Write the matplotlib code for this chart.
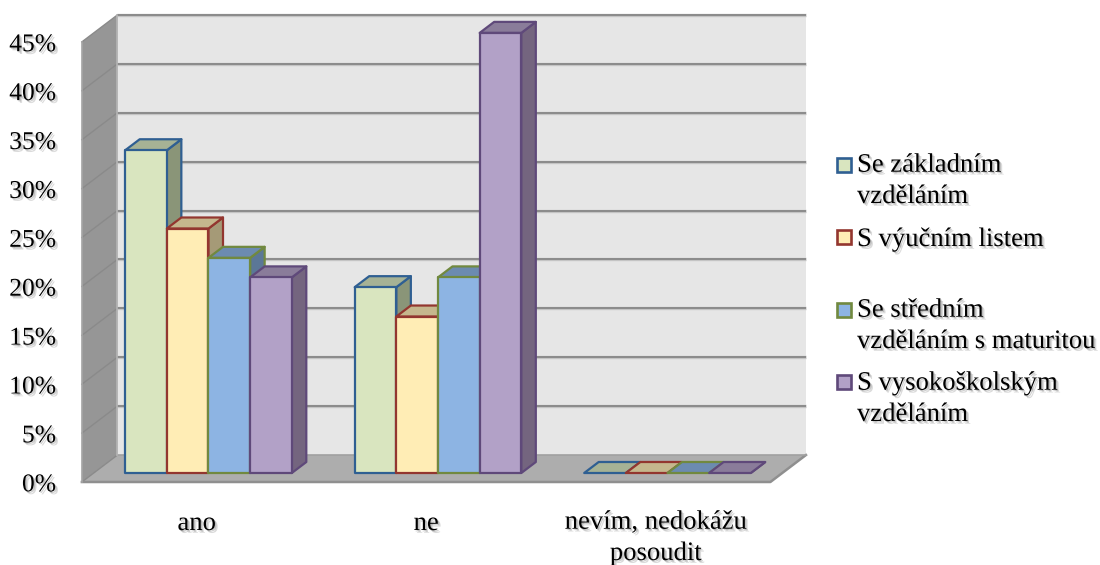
import matplotlib
matplotlib.use("Agg")
import matplotlib.pyplot as plt
import matplotlib.patheffects as pe
from matplotlib.patches import Polygon, Rectangle
from matplotlib.transforms import Affine2D

categories = ["ano", "ne", "nevím, nedokážu\nposoudit"]
series_names = ["Se základním\nvzděláním", "S výučním listem",
                "Se středním\nvzděláním s maturitou", "S vysokoškolským\nvzděláním"]
zakladni = [33, 19, 0]
vyucni = [25, 16, 0]
stredni = [22, 20, 0]
vysoka = [20, 45, 0]
yticks = [0, 5, 10, 15, 20, 25, 30, 35, 40, 45]

front_cols = ["#D9E5BF", "#FFEDB5", "#8DB4E3", "#B2A1C7"]
top_cols = ["#A6B295", "#C5B78D", "#6C8BB0", "#8A7C9A"]
side_cols = ["#8A9578", "#A59A77", "#5B7797", "#74657F"]
edge_cols = ["#2F5F92", "#93362F", "#71893F", "#5F497A"]

W, H = 1100, 565
PX_CAT = 229.5
PX_PCT = 9.78
X0, Y0 = 208.5, 473
DX, DY = 14.5 / PX_CAT, 11 / PX_PCT   # one bar depth in data units
BACK, FRONT = 18 / 11, -9 / 11        # wall planes, in bar depths
BAR_W = 0.1815
FS = 19.2
LINE = 1.33

plt.rcParams["font.family"] = ["Liberation Serif", "DejaVu Serif"]
fig = plt.figure(figsize=(W / 100, H / 100), dpi=100)
ax = fig.add_axes([0, 0, 1, 1])
ax.set_xlim(-X0 / PX_CAT, (W - X0) / PX_CAT)
ax.set_ylim((Y0 - H) / PX_PCT, Y0 / PX_PCT)
ax.axis("off")

shadow = [pe.SimplePatchShadow(offset=(2, -2), shadow_rgbFace="#999999", alpha=0.35),
          pe.SimplePatchShadow(offset=(1, -1), shadow_rgbFace="#777777", alpha=0.35),
          pe.Normal()]


def pt(x, y, d=0.0):
    return (x + d * DX, y + d * DY)


def poly(pts, fc, ec="none", lw=0.0, z=1):
    ax.add_patch(Polygon(pts, closed=True, fc=fc, ec=ec, lw=lw, joinstyle="round", zorder=z))


xl, xr = -0.5, 2.5
ymax = yticks[-1]

# walls and floor
poly([pt(xl, 0, BACK), pt(xr, 0, BACK), pt(xr, ymax, BACK), pt(xl, ymax, BACK)], "#E6E6E6")
poly([pt(xl, 0, FRONT), pt(xl, 0, BACK), pt(xl, ymax, BACK), pt(xl, ymax, FRONT)], "#969696")
poly([pt(xl, 0, FRONT), pt(xr, 0, FRONT), pt(xr, 0, BACK), pt(xl, 0, BACK)], "#ADADAD")

for v in yticks:
    a, b, c = pt(xl, v, FRONT), pt(xl, v, BACK), pt(xr, v, BACK)
    if v > 0:
        ax.plot([b[0], c[0]], [b[1], c[1]], color="#C4C4C4", lw=2.4, zorder=2, solid_capstyle="butt")
        ax.plot([b[0], c[0]], [b[1], c[1]], color="#868686", lw=1.3, zorder=2, solid_capstyle="butt")
    ax.plot([a[0], b[0]], [a[1], b[1]], color="#8A8A8A", lw=1.0, zorder=2)
    ax.text(*pt(xl - 0.113, v - 0.95, FRONT), f"{v}%", ha="right", va="baseline",
            fontsize=18.4, color="black", path_effects=shadow, zorder=5)

ax.plot(*zip(pt(xl, 0, FRONT), pt(xr, 0, FRONT), pt(xr, 0, BACK)), color="#8F8F8F", lw=1.8, zorder=2)
ax.plot(*zip(pt(xl, 0, BACK), pt(xr, 0, BACK)), color="#A0A0A0", lw=1.2, zorder=2)
ax.plot(*zip(pt(xl, ymax, BACK), pt(xl, 0, BACK)), color="#B5B5B5", lw=1.2, zorder=2)
ax.plot(*zip(pt(xl, ymax, FRONT), pt(xl, 0, FRONT)), color="#A5A5A5", lw=1.2, zorder=2)

# bars, left to right so each front face covers the side of the one before
all_series = [zakladni, vyucni, stredni, vysoka]
for c in range(len(categories)):
    for s, vals in enumerate(all_series):
        v = vals[c]
        x1 = c + (s - 2) * BAR_W
        x2 = x1 + BAR_W
        z = 3 + c + s * 0.1
        ec = edge_cols[s]
        poly([pt(x2, 0), pt(x2, 0, 1), pt(x2, v, 1), pt(x2, v)], side_cols[s], ec, 1.6, z)
        poly([pt(x1, v), pt(x2, v), pt(x2, v, 1), pt(x1, v, 1)], top_cols[s], ec, 1.6, z)
        if v > 0:
            poly([pt(x1, 0), pt(x2, 0), pt(x2, v), pt(x1, v)], front_cols[s], ec, 1.6, z)

for c, name in enumerate(categories):
    x, y = pt(c, 0, FRONT)
    base = 560 if "\n" in name else 530   # multi-line text sits on its last line
    ax.text(x, (Y0 - base) / PX_PCT, name, ha="center", va="baseline", fontsize=FS,
            linespacing=LINE, path_effects=shadow, zorder=5)

# legend, positioned in image pixels (y down)
px = Affine2D().scale(1, -1).translate(0, H)
legend_boxes = [157, 229, 302, 374]
legend_base = [203, 246, 348, 421]
for s, name in enumerate(series_names):
    ax.add_patch(Rectangle((836.5, legend_boxes[s] + 0.5), 14, 14, fc=front_cols[s], ec=edge_cols[s],
                           lw=1.9, transform=px, zorder=5))
    ax.text(857, legend_base[s], name, ha="left", va="baseline", fontsize=FS, transform=px,
            linespacing=LINE, path_effects=shadow, zorder=5)

fig.savefig("out.png", dpi=100, facecolor="white")
